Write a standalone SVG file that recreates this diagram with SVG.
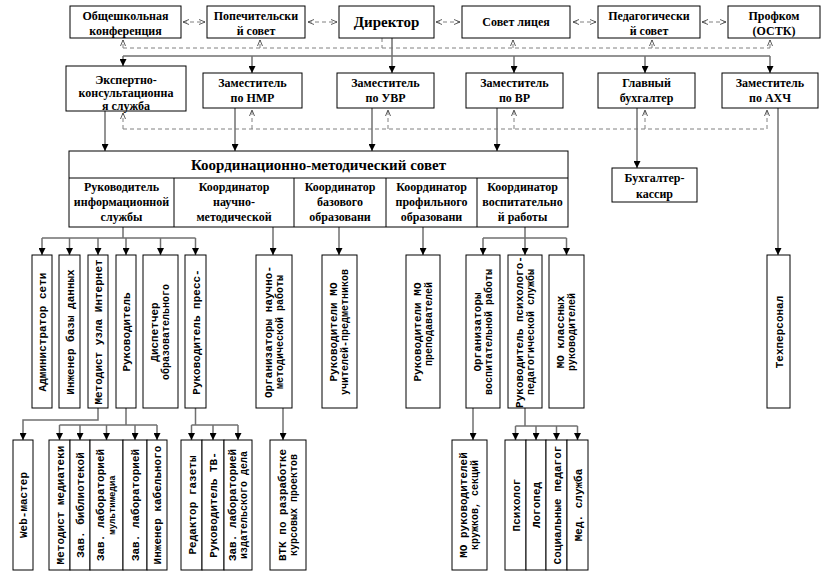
<svg xmlns="http://www.w3.org/2000/svg" width="830" height="573" viewBox="0 0 830 573">
<defs>
<marker id="ah" viewBox="0 0 8 8" refX="8" refY="4" markerWidth="7" markerHeight="7" markerUnits="userSpaceOnUse" orient="auto"><path d="M0,0 L8,4 L0,8 z" fill="#000"/></marker>
<marker id="oh" viewBox="0 0 6 6" refX="6" refY="3" markerWidth="6" markerHeight="6" markerUnits="userSpaceOnUse" orient="auto-start-reverse"><path d="M0,0.5 L6,3 L0,5.5" fill="none" stroke="#333" stroke-width="0.8"/></marker>
</defs>
<style>
.b{fill:#fff;stroke:#000;stroke-width:1}
.t{font-family:'Liberation Serif','DejaVu Serif',serif;font-weight:bold;font-size:12px;text-anchor:middle;fill:#000}
.big{font-size:15px}
.v{font-family:'Liberation Mono','DejaVu Sans Mono',monospace;font-weight:bold;font-size:11px;text-anchor:middle;fill:#000}
.v2{font-size:10px}
.v3{font-size:9px}
.s{fill:none;stroke:#707070;stroke-width:1.5}
.sa{marker-end:url(#ah)}
.d{fill:none;stroke:#808080;stroke-width:1;stroke-dasharray:4 3}
.da{marker-end:url(#oh)}
.dd{marker-start:url(#oh);marker-end:url(#oh)}
</style>
<rect width="830" height="573" fill="#fff"/>

<g id="connectors">
  <path class="d dd" d="M183,22 H205"/>
  <path class="d dd" d="M308,22 H337"/>
  <path class="d dd" d="M436,22 H460"/>
  <path class="d dd" d="M573,22 H596"/>
  <path class="d dd" d="M702,22 H726"/>
  <path class="d" d="M382,38 V48 M123,48 H770"/>
  <path class="d da" d="M123,48 V40"/>
  <path class="d da" d="M260,48 V40"/>
  <path class="d da" d="M513,48 V40"/>
  <path class="d da" d="M652,48 V40"/>
  <path class="d da" d="M770,48 V40"/>
  <path class="s" d="M392,38 V56 M123,56 H770"/>
  <path class="s sa" d="M123,56 V66"/>
  <path class="s sa" d="M252,56 V73"/>
  <path class="s sa" d="M392,56 V73"/>
  <path class="s sa" d="M514,56 V73"/>
  <path class="s sa" d="M645,56 V73"/>
  <path class="s sa" d="M770,56 V73"/>
  <path class="d" d="M123,129 H767"/>
  <path class="d da" d="M123,129 V113"/>
  <path class="d da" d="M252,129 V110"/>
  <path class="d da" d="M388,129 V110"/>
  <path class="d da" d="M514,129 V110"/>
  <path class="d da" d="M645,129 V110"/>
  <path class="d da" d="M767,129 V110"/>
  <path class="s sa" d="M105,111 V151"/>
  <path class="s sa" d="M235,108 V151"/>
  <path class="s sa" d="M372,108 V151"/>
  <path class="s sa" d="M497,108 V151"/>
  <path class="s sa" d="M637,108 V168"/>
  <path class="s sa" d="M778,108 V255"/>
  <path class="s" d="M123,227 V238 M42,238 H195.5"/>
  <path class="s sa" d="M42,238 V255"/>
  <path class="s sa" d="M69.5,238 V255"/>
  <path class="s sa" d="M98,238 V255"/>
  <path class="s sa" d="M126,238 V255"/>
  <path class="s sa" d="M160.5,238 V255"/>
  <path class="s sa" d="M195.5,238 V255"/>
  <path class="s sa" d="M273,227 V255"/>
  <path class="s sa" d="M339,227 V255"/>
  <path class="s sa" d="M423,227 V255"/>
  <path class="s" d="M525,227 V238 M483,238 H566.5"/>
  <path class="s sa" d="M483,238 V255"/>
  <path class="s sa" d="M525,238 V255"/>
  <path class="s sa" d="M566.5,238 V255"/>
  <path class="s sa" d="M98,408 V420 H23 V440"/>
  <path class="s" d="M126,408 V425 M59.5,425 H157"/>
  <path class="s sa" d="M59.5,425 V440"/>
  <path class="s sa" d="M80,425 V440"/>
  <path class="s sa" d="M106.5,425 V440"/>
  <path class="s sa" d="M135,425 V440"/>
  <path class="s sa" d="M157,425 V440"/>
  <path class="s" d="M195.5,408 V425 M191.5,425 H238"/>
  <path class="s sa" d="M191.5,425 V440"/>
  <path class="s sa" d="M213,425 V440"/>
  <path class="s sa" d="M238,425 V440"/>
  <path class="s sa" d="M283,408 V440"/>
  <path class="s sa" d="M473,408 V440"/>
  <path class="s" d="M525,408 V426 M515.5,426 H577.5"/>
  <path class="s sa" d="M515.5,426 V440"/>
  <path class="s sa" d="M536,426 V440"/>
  <path class="s sa" d="M556.5,426 V440"/>
  <path class="s sa" d="M577.5,426 V440"/>
</g>

<g id="n-conference"><rect class="b" x="70" y="6" width="111" height="32"/><text class="t" x="125.5" y="20">Общешкольная</text><text class="t" x="125.5" y="35">конференция</text></g>
<g id="n-trustees"><rect class="b" x="207" y="6" width="98" height="32"/><text class="t" x="256" y="20">Попечительски</text><text class="t" x="256" y="35">й совет</text></g>
<g id="n-director"><rect class="b" x="339" y="6" width="95" height="32"/><text class="t big" x="386.5" y="27">Директор</text></g>
<g id="n-lyceum-council"><rect class="b" x="462" y="6" width="108" height="32"/><text class="t" x="516" y="26">Совет лицея</text></g>
<g id="n-ped-council"><rect class="b" x="598" y="6" width="102" height="32"/><text class="t" x="649" y="20">Педагогически</text><text class="t" x="649" y="35">й совет</text></g>
<g id="n-union"><rect class="b" x="728" y="6" width="92" height="32"/><text class="t" x="774" y="20">Профком</text><text class="t" x="774" y="35">(ОСТК)</text></g>

<g id="n-expert"><rect class="b" x="66" y="66" width="120" height="45"/><text class="t" x="126" y="84">Экспертно-</text><text class="t" x="126" y="97">консультационна</text><text class="t" x="126" y="110">я служба</text></g>
<g id="n-nmr"><rect class="b" x="203" y="73" width="99" height="35"/><text class="t" x="252.5" y="87">Заместитель</text><text class="t" x="252.5" y="102">по НМР</text></g>
<g id="n-uvr"><rect class="b" x="337" y="73" width="97" height="35"/><text class="t" x="385.5" y="87">Заместитель</text><text class="t" x="385.5" y="102">по УВР</text></g>
<g id="n-vr"><rect class="b" x="466" y="73" width="97" height="35"/><text class="t" x="514.5" y="87">Заместитель</text><text class="t" x="514.5" y="102">по ВР</text></g>
<g id="n-chief-acc"><rect class="b" x="598" y="73" width="97" height="35"/><text class="t" x="646.5" y="87">Главный</text><text class="t" x="646.5" y="102">бухгалтер</text></g>
<g id="n-ahch"><rect class="b" x="722" y="73" width="96" height="35"/><text class="t" x="770" y="87">Заместитель</text><text class="t" x="770" y="102">по АХЧ</text></g>

<g id="n-council">
  <rect class="b" x="69" y="151" width="499" height="76"/>
  <path d="M69,178 H568 M174,178 V227 M294,178 V227 M386,178 V227 M477,178 V227" stroke="#000" stroke-width="1" fill="none"/>
  <text class="t big" x="318.5" y="170">Координационно-методический совет</text>
  <text class="t" x="121.5" y="191">Руководитель</text><text class="t" x="121.5" y="206">информационной</text><text class="t" x="121.5" y="221">службы</text>
  <text class="t" x="234" y="191">Координатор</text><text class="t" x="234" y="206">научно-</text><text class="t" x="234" y="221">методической</text>
  <text class="t" x="340" y="191">Координатор</text><text class="t" x="340" y="206">базового</text><text class="t" x="340" y="221">образовани</text>
  <text class="t" x="431.5" y="191">Координатор</text><text class="t" x="431.5" y="206">профильного</text><text class="t" x="431.5" y="221">образовани</text>
  <text class="t" x="522.5" y="191">Координатор</text><text class="t" x="522.5" y="206">воспитательно</text><text class="t" x="522.5" y="221">й работы</text>
</g>
<g id="n-cashier"><rect class="b" x="612" y="168" width="85" height="34"/><text class="t" x="654.5" y="182">Бухгалтер-</text><text class="t" x="654.5" y="198">кассир</text></g>

<g id="n-netadmin"><rect class="b" x="32" y="255" width="20" height="153"/><text class="v" transform="translate(46,332) rotate(-90)">Администратор сети</text></g>
<g id="n-dbeng"><rect class="b" x="59" y="255" width="21" height="153"/><text class="v" transform="translate(73.5,332) rotate(-90)">Инженер базы данных</text></g>
<g id="n-inet"><rect class="b" x="88" y="255" width="20" height="153"/><text class="v" transform="translate(102,332) rotate(-90)">Методист узла Интернет</text></g>
<g id="n-head"><rect class="b" x="116" y="255" width="20" height="153"/><text class="v" transform="translate(130,332) rotate(-90)">Руководитель</text></g>
<g id="n-dispatcher"><rect class="b" x="143" y="255" width="35" height="153"/><text class="v" transform="translate(158,332) rotate(-90)">Диспетчер</text><text class="v v2" transform="translate(169,332) rotate(-90)">образовательного</text></g>
<g id="n-press"><rect class="b" x="185" y="255" width="21" height="153"/><text class="v" transform="translate(199.5,332) rotate(-90)">Руководитель пресс-</text></g>
<g id="n-org-nm"><rect class="b" x="256" y="255" width="36" height="153"/><text class="v" transform="translate(271.5,332) rotate(-90)">Организаторы научно-</text><text class="v v2" transform="translate(282.5,332) rotate(-90)">методической работы</text></g>
<g id="n-mo-teachers"><rect class="b" x="322" y="255" width="35" height="153"/><text class="v" transform="translate(337,332) rotate(-90)">Руководители МО</text><text class="v v2" transform="translate(348,332) rotate(-90)">учителей-предметников</text></g>
<g id="n-mo-lecturers"><rect class="b" x="406" y="255" width="34" height="153"/><text class="v" transform="translate(420.5,332) rotate(-90)">Руководители МО</text><text class="v v2" x="50" style="text-anchor:end" transform="translate(431.5,332) rotate(-90)">преподавателей</text></g>
<g id="n-org-vr"><rect class="b" x="466" y="255" width="34" height="153"/><text class="v" transform="translate(480.5,332) rotate(-90)">Организаторы</text><text class="v v2" transform="translate(491.5,332) rotate(-90)">воспитательной работы</text></g>
<g id="n-psych-head"><rect class="b" x="508" y="255" width="34" height="153"/><text class="v" transform="translate(522.5,332) rotate(-90)">Руководитель психолого-</text><text class="v v2" transform="translate(533.5,332) rotate(-90)">педагогической службы</text></g>
<g id="n-mo-class"><rect class="b" x="549" y="255" width="35" height="153"/><text class="v" transform="translate(564,332) rotate(-90)">МО классных</text><text class="v v2" transform="translate(575,332) rotate(-90)">руководителей</text></g>
<g id="n-tech"><rect class="b" x="767" y="255" width="23" height="153"/><text class="v" transform="translate(782.5,332) rotate(-90)">Техперсонал</text></g>

<g id="n-web"><rect class="b" x="13" y="440" width="20" height="130"/><text class="v" transform="translate(27,505) rotate(-90)">Web-мастер</text></g>
<g id="n-media"><rect class="b" x="49" y="440" width="21" height="130"/><text class="v" transform="translate(63.5,505) rotate(-90)">Методист медиатеки</text></g>
<g id="n-library"><rect class="b" x="70" y="440" width="20" height="130"/><text class="v" transform="translate(84,505) rotate(-90)">Зав. библиотекой</text></g>
<g id="n-multimedia"><rect class="b" x="90" y="440" width="33" height="130"/><text class="v" transform="translate(104,505) rotate(-90)">Зав. лабораторией</text><text class="v v3" transform="translate(114.5,505) rotate(-90)">мультимедиа</text></g>
<g id="n-lab"><rect class="b" x="123" y="440" width="24" height="130"/><text class="v" transform="translate(139,505) rotate(-90)">Зав. лабораторией</text></g>
<g id="n-cable"><rect class="b" x="147" y="440" width="20" height="130"/><text class="v" transform="translate(161,505) rotate(-90)">Инженер кабельного</text></g>
<g id="n-newspaper"><rect class="b" x="181" y="440" width="21" height="130"/><text class="v" transform="translate(195.5,505) rotate(-90)">Редактор газеты</text></g>
<g id="n-tv"><rect class="b" x="202" y="440" width="22" height="130"/><text class="v" transform="translate(217,505) rotate(-90)">Руководитель ТВ-</text></g>
<g id="n-publish"><rect class="b" x="224" y="440" width="28" height="130"/><text class="v" transform="translate(235.5,505) rotate(-90)">Зав. лабораторией</text><text class="v v2" transform="translate(246.5,505) rotate(-90)">издательского дела</text></g>
<g id="n-vtk"><rect class="b" x="270" y="440" width="36" height="130"/><text class="v" transform="translate(285.5,505) rotate(-90)">ВТК по разработке</text><text class="v v2" transform="translate(296.5,505) rotate(-90)">курсовых проектов</text></g>
<g id="n-mo-clubs"><rect class="b" x="452" y="440" width="35" height="130"/><text class="v" transform="translate(467,505) rotate(-90)">МО руководителей</text><text class="v v2" transform="translate(478,505) rotate(-90)">кружков, секций</text></g>
<g id="n-psychologist"><rect class="b" x="505" y="440" width="21" height="130"/><text class="v" transform="translate(519.5,505) rotate(-90)">Психолог</text></g>
<g id="n-speech"><rect class="b" x="526" y="440" width="20" height="130"/><text class="v" transform="translate(540,505) rotate(-90)">Логопед</text></g>
<g id="n-social"><rect class="b" x="546" y="440" width="21" height="130"/><text class="v" transform="translate(560.5,505) rotate(-90)">Социальные педагог</text></g>
<g id="n-medical"><rect class="b" x="567" y="440" width="21" height="130"/><text class="v" transform="translate(581.5,505) rotate(-90)">Мед. служба</text></g>
</svg>
